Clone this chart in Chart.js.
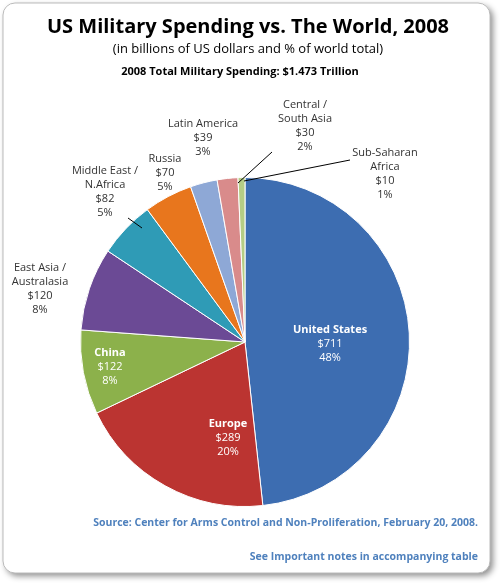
<!DOCTYPE html>
<html><head><meta charset="utf-8">
<script src="https://cdn.jsdelivr.net/npm/chart.js@4"></script>
<style>html,body{margin:0;padding:0;background:#fff}#c{display:block}</style>
</head><body>
<canvas id="c" width="500" height="584"></canvas>
<script>
const categories=["United States","Europe","China","East Asia / Australasia","Middle East / N.Africa","Russia","Latin America","Central / South Asia","Sub-Saharan Africa"];
const values=[711,289,122,120,82,70,39,30,10];
const pctLabels=["48%","20%","8%","8%","5%","5%","3%","2%","1%"];
const colors=["#3d6db1","#bb3431","#8cb14b","#6b4a95","#2f9bb6","#e8761d","#8ea8d6","#d98b8b","#b5cd85"];
const labelLines=[["United States"],["Europe"],["China"],["East Asia /","Australasia"],["Middle East /","N.Africa"],["Russia"],["Latin America"],["Central /","South Asia"],["Sub-Saharan","Africa"]];
const labelCfg=[
 {x:330,y:330,inside:true},{x:228,y:424,inside:true},{x:110,y:353,inside:true},
 {x:40,y:268},{x:105,y:171,line:[128,218,142,228]},{x:165,y:159},{x:203,y:124},
 {x:305,y:105,line:[272,152,238,183]},{x:385,y:153,line:[350,160,244,181]}];
const F='"Liberation Sans Narrow","Open Sans", sans-serif';
const deco={id:'deco',
 beforeDraw(ch){const c=ch.ctx;c.save();c.shadowColor='rgba(0,0,0,0.45)';c.shadowBlur=6;c.shadowOffsetX=3;c.shadowOffsetY=3;
  c.fillStyle='#fff';c.strokeStyle='#bbb';c.beginPath();c.roundRect(3,3,487,570,12);c.fill();c.shadowColor='transparent';c.stroke();c.restore();},
 afterDraw(ch){const c=ch.ctx;c.save();c.textAlign='center';c.textBaseline='middle';
  c.fillStyle='#000';c.font='bold 20px "Open Sans", sans-serif';c.fillText('US Military Spending vs. The World, 2008',248,27);
  c.font='13px "Open Sans", sans-serif';c.fillText('(in billions of US dollars and % of world total)',248,49);
  c.font='bold 11px "Open Sans", sans-serif';c.fillText('2008 Total Military Spending: $1.473 Trillion',240,72);
  c.fillStyle='#4f81bd';c.font='bold 10.5px "Open Sans", sans-serif';c.textAlign='right';
  c.fillText('Source: Center for Arms Control and Non-Proliferation, February 20, 2008.',478,523);
  c.fillText('See Important notes in accompanying table',478,557);
  c.textAlign='center';
  labelCfg.forEach((l,i)=>{const lines=[...labelLines[i],'$'+values[i],pctLabels[i]];
   if(l.inside){c.fillStyle='#fff';lines.forEach((t,k)=>{c.font=(k==0?'bold ':'')+'11px "Open Sans", sans-serif';c.fillText(t,l.x,l.y+k*14);});}
   else{c.fillStyle='#333';c.font='11px "Open Sans", sans-serif';lines.forEach((t,k)=>c.fillText(t,l.x,l.y+k*14));}
   if(l.line){c.strokeStyle='#000';c.lineWidth=1;c.beginPath();c.moveTo(l.line[0],l.line[1]);c.lineTo(l.line[2],l.line[3]);c.stroke();}
  });c.restore();}};
new Chart(document.getElementById('c'),{type:'pie',
 data:{labels:categories,datasets:[{data:values,backgroundColor:colors,borderColor:'#fff',borderWidth:1}]},
 options:{responsive:false,animation:false,layout:{padding:{left:80,right:90,top:177,bottom:77}},
  plugins:{legend:{display:false},tooltip:{enabled:false}}},plugins:[deco]});
</script></body></html>
